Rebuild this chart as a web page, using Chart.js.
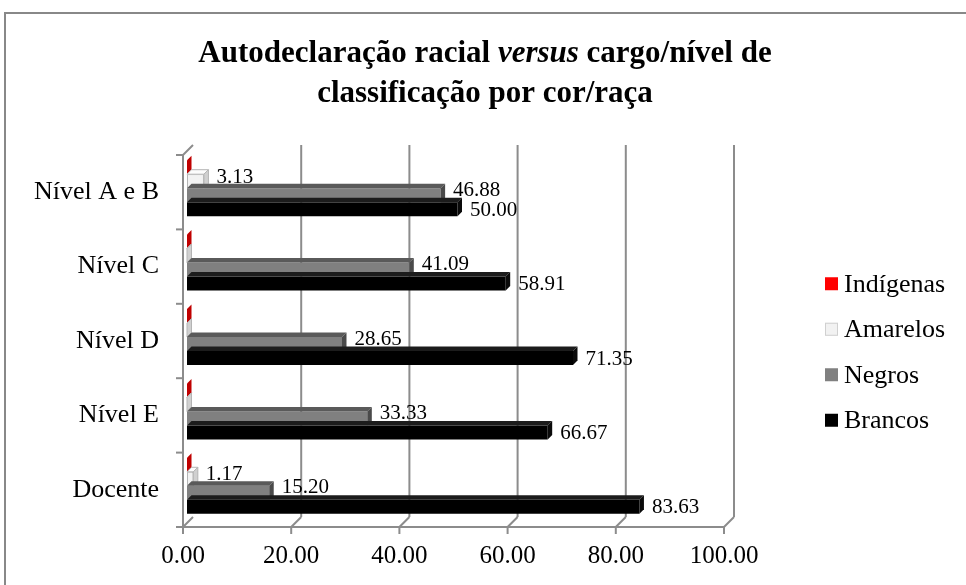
<!DOCTYPE html>
<html>
<head>
<meta charset="utf-8">
<script src="https://cdn.jsdelivr.net/npm/chart.js@4.4.0/dist/chart.umd.min.js"></script>
<style>
  html, body { margin: 0; padding: 0; background: #ffffff; }
  #wrap { position: relative; width: 966px; height: 585px; overflow: hidden; }
  #frame { position: absolute; left: 4px; top: 12px; width: 1000px; height: 600px; border: 2px solid #888888; box-sizing: border-box; pointer-events: none; }
  canvas { position: absolute; left: 0; top: 0; }
</style>
</head>
<body>
<div id="wrap">
  <canvas id="c" width="966" height="585"></canvas>
  <div id="frame"></div>
</div>
<script>
// ---- data ----
const categories = ['Nível A e B', 'Nível C', 'Nível D', 'Nível E', 'Docente'];
const seriesNames = ['Indígenas', 'Amarelos', 'Negros', 'Brancos'];
const indigenas = [0, 0, 0, 0, 0];
const amarelos  = [3.13, 0, 0, 0, 1.17];
const negros    = [46.88, 41.09, 28.65, 33.33, 15.20];
const brancos   = [50.00, 58.91, 71.35, 66.67, 83.63];
const xTickValues = [0, 20, 40, 60, 80, 100];
const titleParts1 = [['Autodeclaração racial ', false], ['versus', true], [' cargo/nível de', false]];
const titleLine2 = 'classificação por cor/raça';

// ---- styles ----
const FONT = 'Liberation Serif';
const SHIFT = 4;      // bar plane offset (3D depth)
const DEPTH = 4.5;    // bar thickness in depth
const WALL = 10;      // back wall offset
const GRID = '#8c8c8c';

const styles = [
  { front: '#ff0000', top: '#ff2a2a', end: '#c00000', border: '#c00000', bw: 0, stroke: null, labelDy: -4 },
  { front: '#f2f2f2', top: '#fcfcfc', end: '#d0d0d0', border: '#b4b4b4', bw: 1, stroke: '#b4b4b4', labelDy: -4 },
  { front: '#808080', top: '#5a5a5a', end: '#4a4a4a', border: '#808080', bw: 0, stroke: null, labelDy: -5 },
  { front: '#000000', top: '#1c1c1c', end: '#0a0a0a', border: '#000000', bw: 0, stroke: null, labelDy: 1 }
];
const values = [indigenas, amarelos, negros, brancos];

const datasets = seriesNames.map((name, i) => ({
  label: name,
  data: values[i],
  backgroundColor: styles[i].front,
  borderColor: styles[i].border,
  borderWidth: styles[i].bw,
  borderSkipped: false,
  categoryPercentage: 0.753,
  barPercentage: 1.0
}));

function poly(ctx, pts, fill, stroke) {
  ctx.beginPath();
  ctx.moveTo(pts[0][0], pts[0][1]);
  for (let k = 1; k < pts.length; k++) ctx.lineTo(pts[k][0], pts[k][1]);
  ctx.closePath();
  ctx.fillStyle = fill;
  ctx.fill();
  if (stroke) { ctx.strokeStyle = stroke; ctx.lineWidth = 1; ctx.stroke(); }
}

const threeD = {
  id: 'threeD',
  beforeDatasetsDraw(chart) {
    const ctx = chart.ctx, a = chart.chartArea, xs = chart.scales.x;
    ctx.save();
    ctx.strokeStyle = GRID;
    ctx.lineWidth = 2;
    ctx.lineCap = 'butt';
    const line = (x1, y1, x2, y2) => { ctx.beginPath(); ctx.moveTo(x1, y1); ctx.lineTo(x2, y2); ctx.stroke(); };
    xTickValues.forEach(v => {
      const px = xs.getPixelForValue(v);
      if (v !== 0) line(px + WALL, a.top - WALL, px + WALL, a.bottom - WALL);
      line(px, a.bottom, px + WALL, a.bottom - WALL);
      line(px, a.bottom, px, a.bottom + 7);
    });
    // front axes
    line(a.left, a.top, a.left, a.bottom + 1);
    line(a.left - 1, a.bottom, a.right, a.bottom);
    // left wall top diagonal
    line(a.left, a.top, a.left + WALL, a.top - WALL);
    // category boundary ticks
    const n = categories.length;
    for (let i = 0; i <= n; i++) {
      const y = a.top + i * (a.bottom - a.top) / n;
      line(a.left - 7, y, a.left, y);
    }
    ctx.restore();
    ctx.save();
    ctx.translate(SHIFT, -SHIFT);
  },
  afterDatasetsDraw(chart) {
    const ctx = chart.ctx;
    const d = DEPTH;
    chart.data.datasets.forEach((ds, i) => {
      const meta = chart.getDatasetMeta(i);
      meta.data.forEach(el => {
        const p = el.getProps(['x', 'y', 'base', 'height'], true);
        const x0 = Math.min(p.x, p.base), x1 = Math.max(p.x, p.base);
        const y0 = p.y - p.height / 2, y1 = p.y + p.height / 2;
        poly(ctx, [[x0, y0], [x0 + d, y0 - d], [x1 + d, y0 - d], [x1, y0]], styles[i].top, styles[i].stroke);
        poly(ctx, [[x1, y0], [x1 + d, y0 - d], [x1 + d, y1 - d], [x1, y1]], styles[i].end, styles[i].stroke);
      });
    });
    ctx.restore();
    // data labels
    ctx.save();
    ctx.font = '21px "' + FONT + '"';
    ctx.fillStyle = '#000';
    ctx.textAlign = 'left';
    ctx.textBaseline = 'middle';
    chart.data.datasets.forEach((ds, i) => {
      const meta = chart.getDatasetMeta(i);
      meta.data.forEach((el, j) => {
        const v = ds.data[j];
        if (!(v > 0)) return;
        const p = el.getProps(['x', 'y'], true);
        ctx.fillText(v.toFixed(2), p.x + SHIFT + DEPTH + 8, p.y - SHIFT + styles[i].labelDy);
      });
    });
    ctx.restore();
  },
  afterDraw(chart) {
    const ctx = chart.ctx, a = chart.chartArea;
    // title
    ctx.save();
    ctx.fillStyle = '#000';
    ctx.textBaseline = 'alphabetic';
    ctx.textAlign = 'left';
    const cx = 485;
    const f = (it) => (it ? 'italic ' : '') + 'bold 31px "' + FONT + '"';
    let total = 0;
    titleParts1.forEach(([t, it]) => { ctx.font = f(it); total += ctx.measureText(t).width; });
    let x = cx - total / 2;
    titleParts1.forEach(([t, it]) => { ctx.font = f(it); ctx.fillText(t, x, 62); x += ctx.measureText(t).width; });
    ctx.font = f(false);
    ctx.textAlign = 'center';
    ctx.fillText(titleLine2, cx, 102);
    ctx.restore();
    // legend
    ctx.save();
    ctx.font = '26px "' + FONT + '"';
    ctx.textBaseline = 'middle';
    ctx.textAlign = 'left';
    const lx = a.right + 101;
    const yc = (a.top + a.bottom) / 2 + 11;
    const gap = 45.5;
    seriesNames.forEach((name, i) => {
      const y = yc + (i - 1.5) * gap;
      ctx.fillStyle = styles[i].front;
      ctx.fillRect(lx, y - 6.5, 13, 13);
      if (styles[i].bw) {
        ctx.strokeStyle = '#d0d0d0';
        ctx.lineWidth = 1;
        ctx.strokeRect(lx + 0.5, y - 6, 12, 12);
      }
      ctx.fillStyle = '#000';
      ctx.fillText(name, lx + 19, y + 1);
    });
    ctx.restore();
  }
};

new Chart(document.getElementById('c'), {
  type: 'bar',
  data: { labels: categories, datasets },
  options: {
    indexAxis: 'y',
    responsive: false,
    devicePixelRatio: 1,
    animation: false,
    layout: { padding: { left: 0, right: 242, top: 155, bottom: 0 } },
    plugins: { legend: { display: false }, title: { display: false }, tooltip: { enabled: false } },
    scales: {
      x: {
        type: 'linear', min: 0, max: 100,
        afterBuildTicks: s => { s.ticks = xTickValues.map(v => ({ value: v })); },
        ticks: { callback: v => Number(v).toFixed(2), font: { family: FONT, size: 25 }, color: '#000', padding: 14, maxRotation: 0 },
        grid: { display: false, drawTicks: false },
        border: { display: false },
        afterFit: s => { s.height = 58; }
      },
      y: {
        ticks: { font: { family: FONT, size: 26 }, color: '#000', padding: 24 },
        grid: { display: false, drawTicks: false },
        border: { display: false },
        afterFit: s => { s.width = 183; }
      }
    }
  },
  plugins: [threeD]
});
</script>
</body>
</html>
